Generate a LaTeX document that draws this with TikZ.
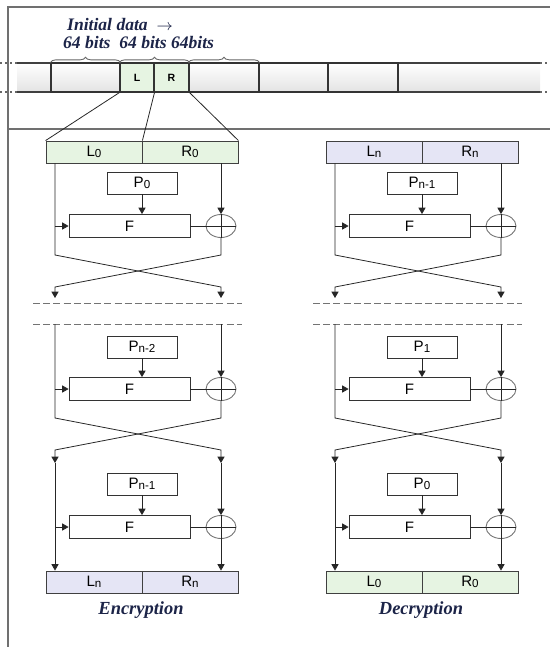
\documentclass[tikz,border=0pt]{standalone}
\usepackage{fontspec}
\setmainfont{Liberation Serif}
\setsansfont{Liberation Sans}
\usetikzlibrary{arrows.meta,shapes.geometric,decorations.pathreplacing}
\definecolor{halfgreen}{RGB}{230,244,226}
\definecolor{halfblue}{RGB}{229,229,245}
\definecolor{titleblue}{RGB}{28,36,72}
\definecolor{framegray}{RGB}{112,112,112}
\newcommand{\idx}[2]{#1\raisebox{-0.6pt}{\fontsize{6.6}{7}\selectfont#2}}
\tikzset{
  half/.style={draw=black!75,line width=0.5pt,minimum width=1.92cm,minimum height=0.44cm,
    inner sep=0pt,font=\sffamily\fontsize{8.6}{9}\selectfont},
  keybox/.style={draw=black!80,line width=0.5pt,fill=white,minimum width=1.4cm,minimum height=0.44cm,
    inner sep=0pt,font=\sffamily\fontsize{8.6}{9}\selectfont},
  fnbox/.style={keybox,minimum width=2.42cm,minimum height=0.46cm},
  xor/.style={ellipse,draw=black!55,line width=0.5pt,minimum width=0.6cm,minimum height=0.46cm,inner sep=0pt},
  flow/.style={line width=0.45pt,black!85},
  cut/.style={line width=0.5pt,black!55,dash pattern=on 4pt off 1.8pt},
  cell/.style={draw=black!80,line width=0.6pt,minimum height=0.58cm,inner sep=0pt,
    font=\sffamily\bfseries\fontsize{6}{7}\selectfont},
  coltitle/.style={font=\rmfamily\bfseries\itshape\fontsize{10.5}{12}\selectfont,text=titleblue},
  brace/.style={decorate,decoration={brace,amplitude=3pt},black!60,line width=0.5pt}
}
\begin{document}
\begin{tikzpicture}[x=0.02cm,y=-0.02cm,>={Triangle[length=3.6pt,width=4pt]}]
  \useasboundingbox (0,0) rectangle (550,647);
  % frame
  \draw[framegray,line width=0.9pt] (8,647) -- (8,7) -- (550,7);
  \draw[framegray,line width=0.9pt] (8,129) -- (550,129);
  % data strip
  \shade[top color=white,bottom color=gray!22] (17,63) rectangle (540,92);
  \draw[black!75,line width=0.9pt] (17,63) -- (540,63) (17,92) -- (540,92);
  \draw[black!60,line width=0.9pt,dotted] (0,63) -- (17,63) (0,92) -- (17,92)
    (540,63) -- (550,63) (540,92) -- (550,92);
  \node[cell,minimum width=1.38cm] (blk1) at (85.5,77.5) {};
  \node[cell,minimum width=0.68cm,fill=halfgreen] (blkL) at (137,77.5) {L};
  \node[cell,minimum width=0.7cm,fill=halfgreen] (blkR) at (171.5,77.5) {R};
  \node[cell,minimum width=1.4cm] (blk4) at (224,77.5) {};
  \node[cell,minimum width=1.38cm] (blk5) at (293.5,77.5) {};
  \node[cell,minimum width=1.4cm] (blk6) at (363,77.5) {};
  \draw[brace] (blk1.north west) -- (blk1.north east);
  \draw[brace] (blkL.north west) -- (blkR.north east);
  \draw[brace] (blk4.north west) -- (blk4.north east);
  \node[coltitle,font=\rmfamily\bfseries\itshape\fontsize{10}{12}\selectfont,anchor=west] (intro) at (61,24) {Initial data\ \ {\small$\rightarrow$}};
  \node[coltitle,font=\rmfamily\bfseries\itshape\fontsize{10}{12}\selectfont,anchor=west] (sizes) at (57,42) {64 bits\ \ 64 bits 64bits};
  % encryption / decryption columns
  \foreach \c/\dx/\ts/\tfill/\pa/\pb/\pc/\bs/\bfill/\name in
    {enc/0/0/halfgreen/0/n-2/n-1/n/halfblue/Encryption,
     dec/280/n/halfblue/n-1/1/0/0/halfgreen/Decryption}{
    \node[half,fill=\tfill] (\c-topL) at (\dx+94,152) {\idx{L}{\ts}};
    \node[half,fill=\tfill] (\c-topR) at (\dx+190,152) {\idx{R}{\ts}};
    \node[half,fill=\bfill] (\c-botL) at (\dx+94,582) {\idx{L}{\bs}};
    \node[half,fill=\bfill] (\c-botR) at (\dx+190,582) {\idx{R}{\bs}};
    \node[coltitle] (\c-title) at (\dx+141,610) {\name};
    % rounds
    \foreach \r/\py/\fy/\k in {1/183/226/\pa,2/347/389/\pb,3/484/527/\pc}{
      \node[keybox] (\c-P\r) at (\dx+142,\py) {\idx{P}{\k}};
      \node[fnbox] (\c-F\r) at (\dx+129.5,\fy) {F};
      \node[xor] (\c-X\r) at (\dx+221,\fy) {};
      \coordinate (\c-B\r) at (\dx+55,\fy);
      \draw[flow] (\c-X\r.north) -- (\c-X\r.south);
      \draw[flow] (\c-F\r.east) -- (\c-X\r.east);
      \draw[flow,->] (\c-P\r.south) -- (\c-P\r.south |- \c-F\r.north);
      \draw[flow,->] (\c-B\r) -- (\c-F\r.west);
    }
    \coordinate (\c-s1l) at (\dx+55,255);  \coordinate (\c-s1r) at (\dx+221,255);
    \coordinate (\c-e1l) at (\dx+55,287);  \coordinate (\c-e1r) at (\dx+221,287);
    \coordinate (\c-a1l) at (\dx+55,298);  \coordinate (\c-a1r) at (\dx+221,298);
    \coordinate (\c-d1w) at (\dx+33,303);  \coordinate (\c-d1e) at (\dx+242,303);
    \coordinate (\c-d2w) at (\dx+33,324);  \coordinate (\c-d2e) at (\dx+242,324);
    \coordinate (\c-s2l) at (\dx+55,418);  \coordinate (\c-s2r) at (\dx+221,418);
    \coordinate (\c-e2l) at (\dx+55,450);  \coordinate (\c-e2r) at (\dx+221,450);
    \coordinate (\c-a2l) at (\dx+55,463);  \coordinate (\c-a2r) at (\dx+221,463);
    % round 1
    \draw[flow,->] (\c-B1 |- \c-topL.south) -- (\c-s1l) -- (\c-e1r) -- (\c-a1r);
    \draw[flow,->] (\c-X1 |- \c-topR.south) -- (\c-X1.north);
    \draw[flow,->] (\c-X1.south) -- (\c-s1r) -- (\c-e1l) -- (\c-a1l);
    \draw[cut] (\c-d1w) -- (\c-d1e);
    \draw[cut] (\c-d2w) -- (\c-d2e);
    % round 2
    \draw[flow,->] (\c-B2 |- \c-d2w) -- (\c-s2l) -- (\c-e2r) -- (\c-a2r);
    \draw[flow,->] (\c-X2 |- \c-d2w) -- (\c-X2.north);
    \draw[flow,->] (\c-X2.south) -- (\c-s2r) -- (\c-e2l) -- (\c-a2l);
    % round 3
    \draw[flow,->] (\c-a2l) -- (\c-B3 |- \c-botL.north);
    \draw[flow,->] (\c-a2r) -- (\c-X3.north);
    \draw[flow,->] (\c-X3.south) -- (\c-X3 |- \c-botR.north);
  }
  % split of the selected block
  \draw[flow] (blkL.south west) -- (enc-topL.north west);
  \draw[flow] (blkL.south east) -- (enc-topL.north east);
  \draw[flow] (blkR.south east) -- (enc-topR.north east);
\end{tikzpicture}
\end{document}
